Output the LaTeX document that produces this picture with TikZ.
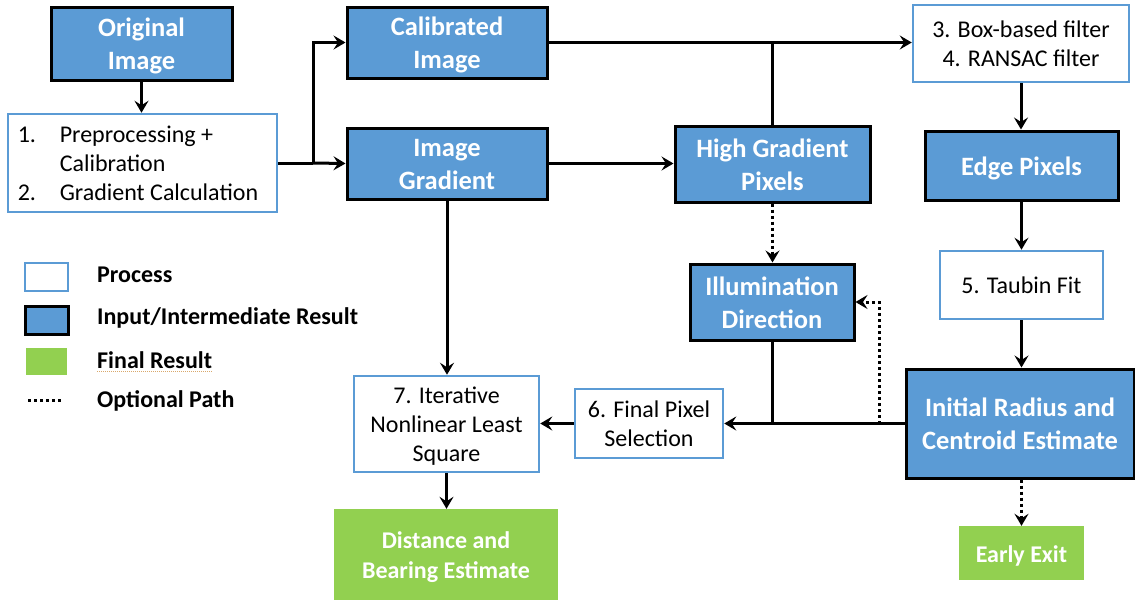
\documentclass[tikz,border=0pt]{standalone}
\usepackage{fontspec}
\setmainfont{Carlito}
\usetikzlibrary{arrows.meta}
\definecolor{oblue}{HTML}{5B9BD5}
\definecolor{ogreen}{HTML}{92D050}
\definecolor{spell}{HTML}{D9A86C}
\newcommand{\lowtxt}[2][c]{\raisebox{-3pt}[\height][\depth]{\begin{tabular}{@{}#1@{}}#2\end{tabular}}}
\tikzset{
  res/.style={draw=black, line width=3pt, fill=oblue, text=white,
    font=\fontsize{26.5}{33}\selectfont\bfseries, inner sep=0pt},
  proc/.style={draw=oblue, line width=2.5pt, fill=white, text=black,
    font=\fontsize{24}{29}\selectfont, inner sep=0pt},
  fin/.style={fill=ogreen, text=white,
    font=\fontsize{24}{30}\selectfont\bfseries, inner sep=0pt},
  legtext/.style={anchor=west, inner sep=0pt, font=\fontsize{24}{28}\selectfont\bfseries},
  conn/.style={line width=3pt, -{Stealth[length=12pt,width=14pt,inset=4.5pt]}},
  plainline/.style={line width=3pt},
  optc/.style={conn, dash pattern=on 3pt off 3pt},
}
\renewcommand{\arraystretch}{1}
\begin{document}
\begin{tikzpicture}[x=1pt,y=-1pt]
\useasboundingbox (0,0) rectangle (1135,600);
% boxes
\node[res, minimum width=181pt, minimum height=73pt] (orig) at (141.5,43.5) {\lowtxt{Original\\Image}};
\node[proc, minimum width=269pt, minimum height=98pt] (pre) at (142.5,163)
  {\lowtxt[l]{\makebox[42pt][l]{1.}Preprocessing +\\ \makebox[42pt][l]{}Calibration\\ \makebox[42pt][l]{2.}Gradient Calculation}\kern9pt\relax};
\node[res, minimum width=200pt, minimum height=71pt] (calib) at (447,42.5) {\lowtxt{Calibrated\\Image}};
\node[res, minimum width=200pt, minimum height=71pt] (grad) at (447,163.5) {\lowtxt{Image\\Gradient}};
\node[res, minimum width=195pt, minimum height=76pt] (hg) at (772.5,164) {\lowtxt{High Gradient\\Pixels}};
\node[proc, minimum width=216pt, minimum height=77pt] (boxf) at (1021,43.5) {\lowtxt{3. Box-based filter\\4. RANSAC filter}};
\node[res, minimum width=193pt, minimum height=69pt] (edge) at (1021.5,165.5) {\lowtxt{Edge Pixels}};
\node[proc, minimum width=163pt, minimum height=68pt] (taubin) at (1021.5,285) {\lowtxt{5. Taubin Fit}};
\node[res, minimum width=228pt, minimum height=109pt] (init) at (1020,423.5) {\lowtxt{Initial Radius and\\Centroid Estimate}};
\node[res, minimum width=164pt, minimum height=76pt] (illum) at (772,302) {\lowtxt{Illumination\\Direction}};
\node[proc, minimum width=148pt, minimum height=69pt] (fps) at (649,423.5) {\lowtxt{6. Final Pixel\\Selection}};
\node[proc, minimum width=185pt, minimum height=96pt] (iter) at (446.5,424) {\lowtxt{7. Iterative\\Nonlinear Least\\Square}};
\node[fin, minimum width=224pt, minimum height=91pt] (dist) at (446,554.5) {\lowtxt{Distance and\\Bearing Estimate}};
\node[fin, minimum width=125pt, minimum height=54pt] (early) at (1021.5,553) {\lowtxt{Early Exit}};
% connectors
\draw[conn] (orig.south) -- (orig.south |- pre.north);
\coordinate (j1) at (313,163);
\draw[plainline] (pre.east) -- (j1);
\draw[conn] (j1) |- (calib.west);
\draw[conn] (j1) -- (grad.west);
\draw[conn] (grad.east) -- (grad.east -| hg.west);
\draw[conn] (calib.east) -- (calib.east -| boxf.west);
\draw[plainline] (hg.north) -- (hg.north |- calib.east);
\draw[conn] (boxf.south) -- (boxf.south |- edge.north);
\draw[conn] (edge.south) -- (edge.south |- taubin.north);
\draw[conn] (taubin.south) -- (taubin.south |- init.north);
\draw[optc] (init.south -| early.north) -- (early.north);
\draw[optc] (hg.south) -- (hg.south |- illum.north);
\draw[conn] (init.west) -- (fps.east);
\coordinate (j2) at (772,423.5);
\draw[plainline] (illum.south) -- (j2);
\coordinate (j3) at (879,423.5);
\draw[optc] (j3) |- (illum.east);
\draw[conn] (fps.west) -- (fps.west -| iter.east);
\draw[conn] (grad.south) -- (grad.south |- iter.north);
\draw[conn] (iter.south) -- (iter.south |- dist.north);
% legend
\node[proc, minimum width=43pt, minimum height=28pt] (lp) at (46.5,277) {};
\node[res, minimum width=43pt, minimum height=28pt] (li) at (46.5,320) {};
\node[fin, minimum width=41pt, minimum height=27pt] (lf) at (46.5,361.5) {};
\coordinate (lo1) at (28,400);
\coordinate (lo2) at (61,400);
\draw[line width=3pt, dash pattern=on 3pt off 3pt] (lo1) -- (lo2);
\node[legtext] (tp) at (97,275) {Process};
\node[legtext] (ti) at (97,318) {Input/Intermediate Result};
\node[legtext] (tf) at (97,360) {Final Result};
\node[legtext] (to) at (97,401) {Optional Path};
\draw[spell, line width=0.8pt, dash pattern=on 1pt off 1pt] (tf.south west) ++(0,3) -- ++(115,0);
\end{tikzpicture}
\end{document}
